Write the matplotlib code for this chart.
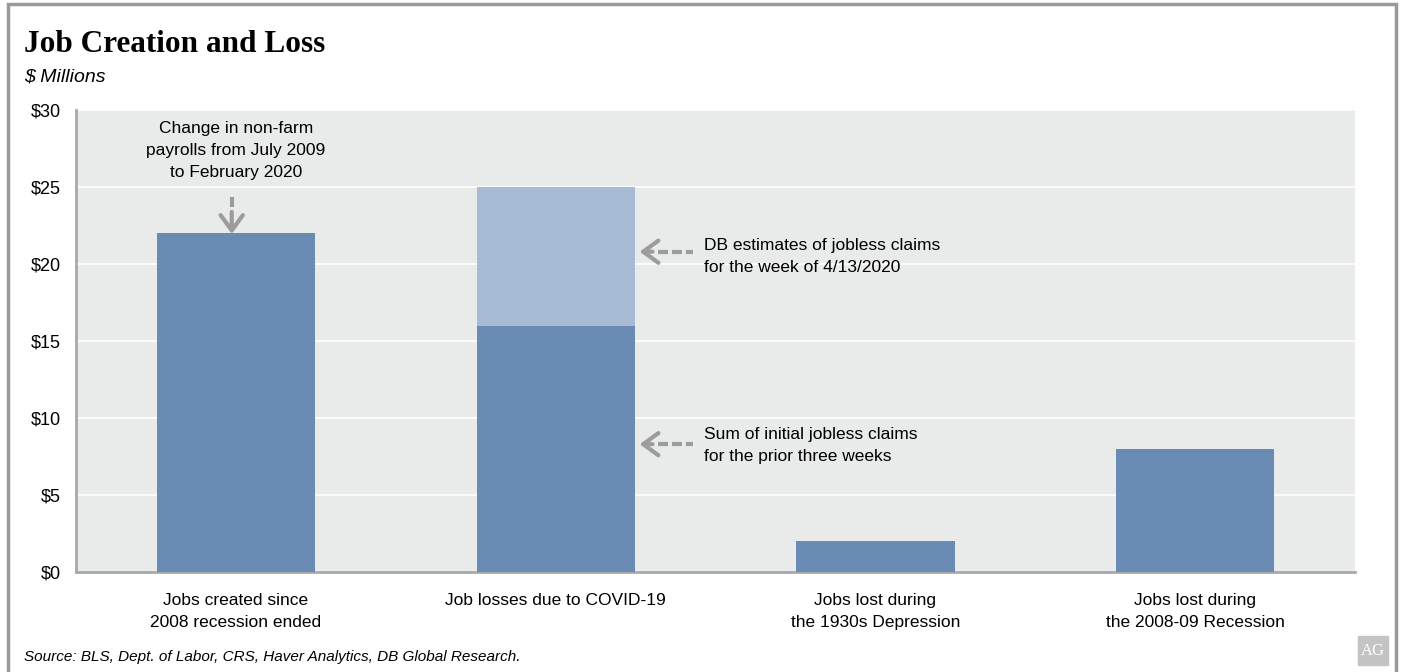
import matplotlib.pyplot as plt
import numpy as np
from matplotlib.patches import Rectangle

# 数据
categories = ['Jobs created since\n2008 recession ended',
              'Job losses due to COVID-19',
              'Jobs lost during\nthe 1930s Depression',
              'Jobs lost during\nthe 2008-09 Recession']
base_values = [22, 16, 2, 8]
extra_values = [0, 9, 0, 0]
yticks = [0, 5, 10, 15, 20, 25, 30]
ytick_labels = ['$0', '$5', '$10', '$15', '$20', '$25', '$30']

dark = '#6a8cb4'
light = '#a7bbd4'
grey = '#9c9c9c'
narrow = ['Liberation Sans Narrow', 'Liberation Sans', 'DejaVu Sans']

fig = plt.figure(figsize=(14.03, 6.72), dpi=100)
ax = fig.add_axes([0.0542, 0.1488, 0.9116, 0.6875])

# 外框
fig.patches.append(Rectangle((8 / 1403, -0.1), 1388 / 1403, 1.1 - 4 / 672,
                             transform=fig.transFigure, fill=False,
                             edgecolor='#9a9a9a', linewidth=2.5))

ax.set_facecolor('#e9eaea')
x = np.arange(len(categories))
ax.bar(x, base_values, width=0.495, color=dark, zorder=3)
ax.bar(x, extra_values, width=0.495, bottom=base_values, color=light, zorder=3)

ax.set_xlim(-0.5, 3.5)
ax.set_ylim(0, 30)
ax.set_yticks(yticks)
ax.set_yticklabels(ytick_labels, family=narrow, fontsize=13)
ax.set_xticks(x)
ax.set_xticklabels(categories, family=narrow, fontsize=12.5, linespacing=1.6)
ax.tick_params(axis='y', length=0, pad=11)
ax.tick_params(axis='x', length=0, pad=15)
ax.grid(axis='y', color='white', linewidth=1.2, zorder=1)
ax.set_axisbelow(True)
for s in ['top', 'right']:
    ax.spines[s].set_visible(False)
for s in ['left', 'bottom']:
    ax.spines[s].set_color('#a8a8a8')
    ax.spines[s].set_linewidth(2)


# 虚线箭头: 虚线段 + 实线箭头头部
def dashed_arrow(dash_x, dash_y, tail, tip):
    ax.plot(dash_x, dash_y, color=grey, linewidth=3, dashes=(2.4, 0.95),
            dash_capstyle='butt', zorder=5)
    ax.annotate('', xy=tip, xytext=tail,
                arrowprops=dict(arrowstyle='->,head_length=0.55,head_width=0.4',
                                color=grey, linewidth=3, mutation_scale=20,
                                shrinkA=0, shrinkB=0), zorder=5)


dashed_arrow([-0.013, -0.013], [24.36, 23.5], (-0.013, 23.38), (-0.013, 21.95))
dashed_arrow([1.319, 1.43], [20.8, 20.8], (1.303, 20.8), (1.2625, 20.8))
dashed_arrow([1.319, 1.43], [8.3, 8.3], (1.303, 8.3), (1.2625, 8.3))

# 标注
ax.text(0, 27.37, 'Change in non-farm\npayrolls from July 2009\nto February 2020',
        ha='center', va='center', family=narrow, fontsize=12.5, linespacing=1.6,
        zorder=4)
ax.text(1.465, 20.5, 'DB estimates of jobless claims\nfor the week of 4/13/2020',
        ha='left', va='center', family=narrow, fontsize=12.5, linespacing=1.6)
ax.text(1.465, 8.2, 'Sum of initial jobless claims\nfor the prior three weeks',
        ha='left', va='center', family=narrow, fontsize=12.5, linespacing=1.6)

# 标题
fig.text(24 / 1403, 1 - 45 / 672, 'Job Creation and Loss', family='Liberation Serif',
         fontweight='bold', fontsize=22.5, va='center', ha='left')
fig.text(24 / 1403, 1 - 77 / 672, '$ Millions', family=narrow, style='italic',
         fontsize=14, va='center', ha='left')
fig.text(24 / 1403, 1 - 657 / 672,
         'Source: BLS, Dept. of Labor, CRS, Haver Analytics, DB Global Research.',
         family=narrow, style='italic', fontsize=11, va='center', ha='left')

# AG 标志
fig.patches.append(Rectangle((1358 / 1403, 1 - 665 / 672), 30 / 1403, 29 / 672,
                             transform=fig.transFigure, color='#c4c4c4'))
fig.text(1373 / 1403, 1 - 651 / 672, 'AG', family='Liberation Serif', color='white',
         fontsize=12, ha='center', va='center')

plt.savefig('out.png', dpi=100)
plt.close()
